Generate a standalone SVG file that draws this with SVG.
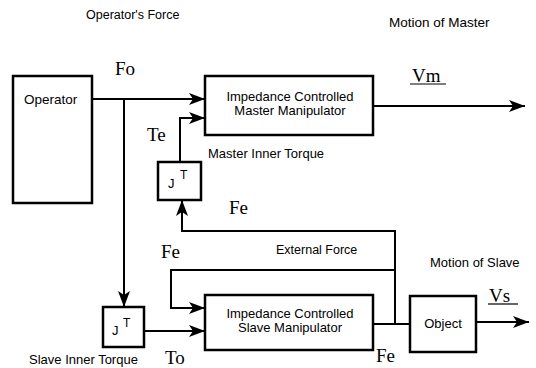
<svg xmlns="http://www.w3.org/2000/svg" width="536" height="368" viewBox="0 0 536 368">
<defs>
<marker id="ah" markerUnits="userSpaceOnUse" markerWidth="17" markerHeight="13" refX="16" refY="6.5" orient="auto">
<path d="M0,0.5 L16,6.5 L0,12.5 L4,6.5 Z" fill="#000"/>
</marker>
</defs>
<style>
.box{fill:#fff;stroke:#000;stroke-width:2.5}
.ln{fill:none;stroke:#000;stroke-width:2}
.sans{font-family:"Liberation Sans",Arial,sans-serif;fill:#000}
.serif{font-family:"Liberation Serif","Times New Roman",serif;font-size:19px;fill:#000}
</style>
<rect width="536" height="368" fill="#fff"/>
<g id="connectors">
<path class="ln" d="M92,99 H205" marker-end="url(#ah)"/>
<path class="ln" d="M124,99 V307" marker-end="url(#ah)"/>
<path class="ln" d="M180,162 V118 H205" marker-end="url(#ah)"/>
<path class="ln" d="M373,106 H525" marker-end="url(#ah)"/>
<path class="ln" d="M395,324 V231 H182 V200" marker-end="url(#ah)"/>
<path class="ln" d="M395,270 H171 V308 H205" marker-end="url(#ah)"/>
<path class="ln" d="M144,331 H205" marker-end="url(#ah)"/>
<path class="ln" d="M373,324 H410"/>
<path class="ln" d="M476,322 H529" marker-end="url(#ah)"/>
</g>
<g id="operator">
<rect class="box" x="13" y="76" width="79" height="127"/>
<text class="sans" x="24" y="104" font-size="13.5">Operator</text>
</g>
<g id="master">
<rect class="box" x="205" y="76" width="168" height="59"/>
<text class="sans" x="290" y="101" font-size="13" text-anchor="middle">Impedance Controlled</text>
<text class="sans" x="290" y="115" font-size="13" text-anchor="middle">Master Manipulator</text>
</g>
<g id="master-jt">
<rect class="box" x="158" y="162" width="43" height="38"/>
<text class="sans" x="168" y="188" font-size="13">J</text>
<text class="sans" x="180" y="179" font-size="12">T</text>
</g>
<g id="slave-jt">
<rect class="box" x="103" y="307" width="41" height="40"/>
<text class="sans" x="112" y="335" font-size="13">J</text>
<text class="sans" x="123" y="327" font-size="12">T</text>
</g>
<g id="slave">
<rect class="box" x="205" y="295" width="168" height="55"/>
<text class="sans" x="290" y="318" font-size="13" text-anchor="middle">Impedance Controlled</text>
<text class="sans" x="290" y="332" font-size="13" text-anchor="middle">Slave Manipulator</text>
</g>
<g id="object">
<rect class="box" x="410" y="296" width="66" height="56"/>
<text class="sans" x="443" y="328" font-size="13" text-anchor="middle">Object</text>
</g>
<g id="labels">
<text class="sans" x="86" y="19" font-size="12.5">Operator's Force</text>
<text class="sans" x="389" y="27" font-size="13.5">Motion of Master</text>
<text class="serif" x="115" y="75">Fo</text>
<text class="serif" x="412" y="82">Vm</text>
<line x1="410" y1="84" x2="446" y2="84" stroke="#000" stroke-width="1.2"/>
<text class="serif" x="147" y="141">Te</text>
<text class="sans" x="208" y="158" font-size="13">Master Inner Torque</text>
<text class="serif" x="229" y="214">Fe</text>
<text class="serif" x="161" y="258">Fe</text>
<text class="sans" x="276" y="254" font-size="12.5">External Force</text>
<text class="sans" x="430" y="267" font-size="13">Motion of Slave</text>
<text class="serif" x="489" y="302">Vs</text>
<line x1="488" y1="304" x2="518" y2="304" stroke="#000" stroke-width="1.2"/>
<text class="sans" x="29" y="364" font-size="13">Slave Inner Torque</text>
<text class="serif" x="165" y="364">To</text>
<text class="serif" x="376" y="362">Fe</text>
</g>
</svg>
